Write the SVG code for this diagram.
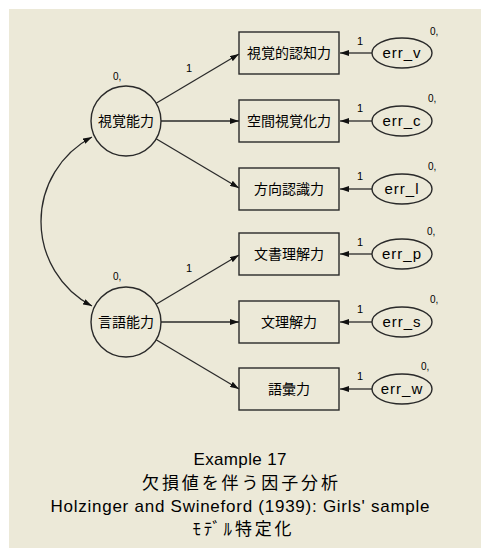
<svg xmlns="http://www.w3.org/2000/svg" width="481" height="548" viewBox="0 0 481 548">
<style>
.bg{fill:#ECE9D8}
.node{fill:none;stroke:#2a2a2a;stroke-width:1.4}
.line{fill:none;stroke:#2a2a2a;stroke-width:1.3}
.jp{font-family:"Noto Sans CJK JP","Noto Sans CJK SC",sans-serif;font-size:14px;fill:#000;text-anchor:middle}
.en{font-family:"Liberation Sans",Arial,sans-serif;font-size:15px;fill:#000;text-anchor:middle;letter-spacing:1px}
.num{font-family:"Liberation Sans",Arial,sans-serif;font-size:11px;fill:#000}
.sm{font-family:"Liberation Sans",Arial,sans-serif;font-size:10px;fill:#000}
.title{font-family:"Liberation Sans",Arial,sans-serif;font-size:17px;fill:#000;text-anchor:middle}
.titlejp{font-family:"Noto Sans CJK JP","Noto Sans CJK SC",sans-serif;font-size:17px;fill:#000;text-anchor:middle}
</style>
<defs>
<marker id="ah" viewBox="0 0 9 6" refX="9" refY="3" markerWidth="9" markerHeight="6" markerUnits="userSpaceOnUse" orient="auto-start-reverse">
<path d="M0,0 L9,3 L0,6 z" fill="#111"/>
</marker>
</defs>
<rect x="0" y="0" width="481" height="548" fill="#fff"/>
<rect class="bg" x="9" y="9" width="472" height="539"/>

<g id="connectors">
<line class="line" x1="156.1" y1="103.2" x2="239" y2="54" marker-end="url(#ah)"/>
<line class="line" x1="161" y1="121" x2="239" y2="121" marker-end="url(#ah)"/>
<line class="line" x1="156.1" y1="138.8" x2="239" y2="188" marker-end="url(#ah)"/>
<line class="line" x1="156.1" y1="304.2" x2="239" y2="255" marker-end="url(#ah)"/>
<line class="line" x1="161" y1="322" x2="239" y2="322" marker-end="url(#ah)"/>
<line class="line" x1="156.1" y1="339.8" x2="239" y2="389" marker-end="url(#ah)"/>
<line class="line" x1="372" y1="53" x2="340" y2="53" marker-end="url(#ah)"/>
<line class="line" x1="372" y1="121" x2="340" y2="121" marker-end="url(#ah)"/>
<line class="line" x1="372" y1="189" x2="340" y2="189" marker-end="url(#ah)"/>
<line class="line" x1="372" y1="254" x2="340" y2="254" marker-end="url(#ah)"/>
<line class="line" x1="372" y1="322" x2="340" y2="322" marker-end="url(#ah)"/>
<line class="line" x1="372" y1="389" x2="340" y2="389" marker-end="url(#ah)"/>
<path class="line" d="M 92 137 A 95.5 95.5 0 0 0 92 306" marker-start="url(#ah)" marker-end="url(#ah)"/>
<text class="num" x="186" y="72">1</text>
<text class="num" x="186" y="272">1</text>
<text class="num" x="357" y="45">1</text>
<text class="num" x="357" y="112">1</text>
<text class="num" x="357" y="180">1</text>
<text class="num" x="357" y="246">1</text>
<text class="num" x="357" y="313">1</text>
<text class="num" x="357" y="380">1</text>
</g>

<g id="visual">
<circle class="node" cx="126" cy="121" r="35"/>
<text class="jp" x="126" y="126">視覚能力</text>
<text class="sm" x="113" y="80">0,</text>
</g>
<g id="verbal">
<circle class="node" cx="126" cy="322" r="35"/>
<text class="jp" x="126" y="327">言語能力</text>
<text class="sm" x="113" y="280">0,</text>
</g>

<g id="visperc">
<rect class="node" x="239" y="32" width="100" height="42"/>
<text class="jp" x="289" y="58">視覚的認知力</text>
</g>
<g id="cubes">
<rect class="node" x="239" y="100" width="100" height="42"/>
<text class="jp" x="289" y="126">空間視覚化力</text>
</g>
<g id="lozenges">
<rect class="node" x="239" y="168" width="100" height="42"/>
<text class="jp" x="289" y="194">方向認識力</text>
</g>
<g id="paragraph">
<rect class="node" x="239" y="233" width="100" height="42"/>
<text class="jp" x="289" y="259">文書理解力</text>
</g>
<g id="sentence">
<rect class="node" x="239" y="301" width="100" height="42"/>
<text class="jp" x="289" y="327">文理解力</text>
</g>
<g id="wordmean">
<rect class="node" x="239" y="368" width="100" height="42"/>
<text class="jp" x="289" y="394">語彙力</text>
</g>

<g id="err_v">
<ellipse class="node" cx="402" cy="53" rx="30" ry="15"/>
<text class="en" x="402" y="58">err_v</text>
<text class="sm" x="430" y="35">0,</text>
</g>
<g id="err_c">
<ellipse class="node" cx="402" cy="121" rx="30" ry="15"/>
<text class="en" x="402" y="126">err_c</text>
<text class="sm" x="428" y="102">0,</text>
</g>
<g id="err_l">
<ellipse class="node" cx="402" cy="189" rx="30" ry="15"/>
<text class="en" x="402" y="194">err_l</text>
<text class="sm" x="428" y="170">0,</text>
</g>
<g id="err_p">
<ellipse class="node" cx="402" cy="254" rx="30" ry="15"/>
<text class="en" x="402" y="259">err_p</text>
<text class="sm" x="427" y="235">0,</text>
</g>
<g id="err_s">
<ellipse class="node" cx="402" cy="322" rx="30" ry="15"/>
<text class="en" x="402" y="327">err_s</text>
<text class="sm" x="430" y="303">0,</text>
</g>
<g id="err_w">
<ellipse class="node" cx="402" cy="389" rx="30" ry="15"/>
<text class="en" x="402" y="394">err_w</text>
<text class="sm" x="421" y="370">0,</text>
</g>

<g id="caption">
<text class="title" x="240" y="465" textLength="93" lengthAdjust="spacing">Example 17</text>
<text class="titlejp" x="240" y="489" textLength="196" lengthAdjust="spacing">欠損値を伴う因子分析</text>
<text class="title" x="240" y="511.5" textLength="379" lengthAdjust="spacing">Holzinger and Swineford (1939): Girls' sample</text>
<text class="titlejp" x="242" y="535" textLength="99" lengthAdjust="spacing">ﾓﾃﾞﾙ特定化</text>
</g>
</svg>
